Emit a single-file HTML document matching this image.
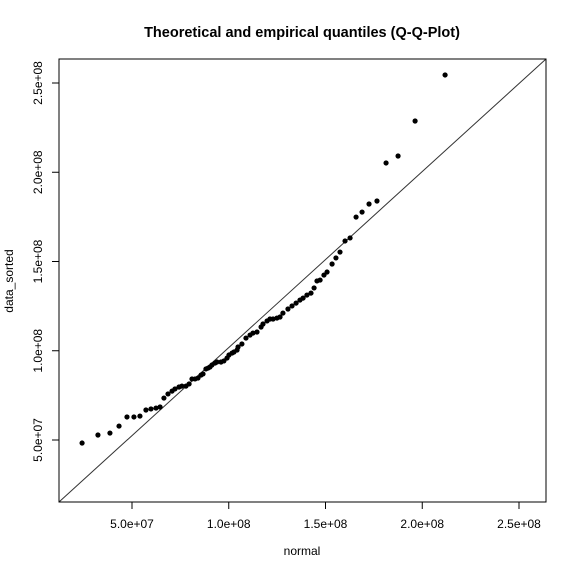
<!DOCTYPE html>
<html><head><meta charset="utf-8"><style>
body{margin:0;background:#fff;}
svg text{font-family:"Liberation Sans",Arial,sans-serif;fill:#000;}
</style></head><body>
<svg id="chart" width="576" height="576" xmlns="http://www.w3.org/2000/svg">
<rect width="576" height="576" fill="#fff"/>
<text x="302" y="37" font-size="14.5" font-weight="bold" text-anchor="middle">Theoretical and empirical quantiles (Q-Q-Plot)</text>
<text x="302" y="555" font-size="12" text-anchor="middle">normal</text>
<text transform="translate(13,281) rotate(-90)" font-size="12" text-anchor="middle">data_sorted</text>
<g id="ticks"></g>
<line x1="59" y1="502" x2="546" y2="59" stroke="#333" stroke-width="1"/>
<g id="marks"></g>
<rect x="59" y="59" width="487" height="443" fill="none" stroke="#000" stroke-width="1"/>
</svg>
<script>
const xTicks=[50,100,150,200,250];
const yTicks=[50,100,150,200,250];
const xTickLabels=["5.0e+07","1.0e+08","1.5e+08","2.0e+08","2.5e+08"];
const yTickLabels=["5.0e+07","1.0e+08","1.5e+08","2.0e+08","2.5e+08"];
// values in millions
const theoretical=[24.2,32.4,38.6,43.3,47.4,51.0,54.1,57.2,59.8,62.4,64.5,66.5,68.6,70.7,72.2,74.3,75.8,77.9,79.5,81.0,82.6,84.1,85.7,86.7,88.2,89.3,90.3,91.3,92.9,93.9,96.0,97.5,99.1,100.1,101.7,102.7,104.3,104.8,106.8,108.9,111.0,112.5,114.6,116.7,117.7,119.8,121.3,122.9,124.9,126.5,128.0,130.6,132.7,134.8,136.8,138.4,140.4,142.5,144.1,145.6,147.2,149.2,150.8,153.4,155.4,157.5,160.1,162.7,165.8,168.9,172.5,176.6,181.3,187.5,196.3,211.8];
const empirical=[48.3,52.8,53.9,57.8,62.9,62.9,63.4,66.8,67.4,67.9,68.5,73.5,75.8,77.4,78.6,79.7,80.2,80.2,81.4,84.2,84.2,84.7,86.4,87.0,89.8,90.3,90.9,92.0,93.1,93.7,93.7,94.3,95.9,97.6,98.7,99.3,100.4,102.1,103.8,107.1,108.8,109.9,110.5,113.3,115.0,116.7,117.8,117.8,118.3,118.9,121.1,123.4,125.1,126.7,128.4,129.5,131.2,132.3,135.2,139.1,139.6,142.4,144.1,148.6,152.0,155.3,161.5,163.2,174.9,177.7,182.2,183.9,205.2,209.1,228.7,254.5];
const NS="http://www.w3.org/2000/svg";
function sx(v){return 132+(v-50)*96.75/50;}
function sy(v){return 440-(v-50)*89.25/50;}
const tg=document.getElementById('ticks'), mg=document.getElementById('marks');
function mk(tag,attrs,parent){const e=document.createElementNS(NS,tag);for(const k in attrs)e.setAttribute(k,attrs[k]);parent.appendChild(e);return e;}
xTicks.forEach((v,i)=>{
  const l=mk('line',{x1:sx(v),x2:sx(v),y1:502,y2:509,stroke:'#000'},tg);
  
  
  const t=mk('text',{x:sx(v),y:528,'font-size':12,'text-anchor':'middle'},tg);
  t.textContent=xTickLabels[i];
  
  
});
yTicks.forEach((v,i)=>{
  const l=mk('line',{x1:52,x2:59,y1:sy(v),y2:sy(v),stroke:'#000'},tg);
  
  
  const t=mk('text',{transform:`translate(42,${sy(v)}) rotate(-90)`,'font-size':12,'text-anchor':'middle'},tg);
  t.textContent=yTickLabels[i];
  
  
});
theoretical.forEach((v,i)=>{
  const c=mk('circle',{cx:sx(v),cy:sy(empirical[i]),r:2.6,fill:'#000'},mg);
  
  
});
</script>
</body></html>
